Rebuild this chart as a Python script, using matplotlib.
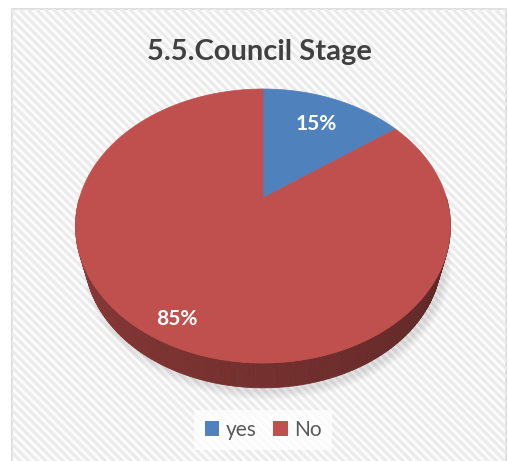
import numpy as np
import matplotlib
matplotlib.use('Agg')
from matplotlib import pyplot as plt
from matplotlib.patches import Polygon, Rectangle, Patch
from matplotlib.colors import to_rgb

labels = ['yes', 'No']
values = [15, 85]
colors = ['#4F81BD', '#C0504D']
title = '5.5.Council Stage'

W, H = 509, 461
fig = plt.figure(figsize=(W / 100, H / 100), dpi=100)
ax = fig.add_axes([0, 0, 1, 1])
ax.set_xlim(0, W)
ax.set_ylim(H, 0)
ax.axis('off')

# chart frame with faint diagonal stripes
frame = Rectangle((12.5, 9.5), 494, 460, facecolor='#fcfcfc', edgecolor='#d9d9d9', lw=1.2, zorder=0)
ax.add_patch(frame)
for x0 in np.arange(-500, 520, 8.5):
    ln, = ax.plot([x0, x0 + 500], [0, 500], color='#ebebeb', lw=2.2, zorder=0.5)
    ln.set_clip_path(frame)

# perspective pie: centre, radii, perspective factor
cx, cy = 263, 198
a, b, k = 183.5, 131.3, 0.2045
# bottom face: a bit smaller and lower
shrink, drop = 0.95, 33


def proj(t, r=1.0, bottom=False):
    u, v = r * np.sin(t), r * np.cos(t)
    w = 1 + k * v
    if bottom:
        return cx + shrink * a * u / w, cy + drop - shrink * b * v / w
    return cx + a * u / w, cy - b * v / w


# soft shadow under the pie
tt = np.linspace(0, 2 * np.pi, 200)
for g in np.linspace(8, 1, 5):
    xs, ys = proj(tt, bottom=True)
    sx = cx + 4 + (xs - cx) * (1 + g / 220)
    sy = cy + drop + 4 + (ys - cy - drop) * (1 + g / 160)
    ax.add_patch(Polygon(np.c_[sx, sy], closed=True, facecolor='#000000', alpha=0.02, lw=0, zorder=1))

frac = np.array(values) / sum(values)
edges = np.concatenate([[0], np.cumsum(frac)]) * 2 * np.pi

# side walls (front half only), shaded darker towards the right
for i in range(len(values)):
    t0, t1 = max(edges[i], np.pi / 2), min(edges[i + 1], 3 * np.pi / 2)
    if t1 <= t0:
        continue
    base = np.array(to_rgb(colors[i]))
    ts = np.linspace(t0, t1, 150)
    for j in range(len(ts) - 1):
        s = (ts[j] - np.pi / 2) / np.pi
        c = base * (0.46 + 0.28 * s)
        xa, ya = proj(ts[j])
        xb, yb = proj(ts[j + 1])
        xc, yc = proj(ts[j + 1], bottom=True)
        xd, yd = proj(ts[j], bottom=True)
        ax.add_patch(Polygon([(xa, ya), (xb, yb), (xc, yc), (xd, yd)], closed=True,
                             facecolor=c, edgecolor=c, lw=0.6, zorder=2))

# top face wedges and percentage labels
for i in range(len(values)):
    ts = np.linspace(edges[i], edges[i + 1], 200)
    xs, ys = proj(ts)
    pts = np.vstack([[cx, cy], np.c_[xs, ys]])
    ax.add_patch(Polygon(pts, closed=True, facecolor=colors[i], edgecolor=colors[i], lw=0.5, zorder=3))
    mid = (edges[i] + edges[i + 1]) / 2
    lx, ly = proj(mid, r=0.72 if frac[i] < 0.5 else 0.87)
    ax.text(lx, ly, '%d%%' % values[i], color='white', fontsize=15,
            fontweight='bold', family='Lato', ha='center', va='center', zorder=4)

ax.text(259, 52, title, fontsize=21, fontweight='bold', family='Lato', color='#404040',
        ha='center', va='center', zorder=4)

handles = [Patch(facecolor=c, edgecolor='none') for c in colors]
leg = fig.legend(handles, labels, loc='center', bbox_to_anchor=(263 / W, 1 - 430 / H), ncol=2,
                 prop={'family': 'Lato', 'size': 15}, handlelength=0.7, handleheight=0.7,
                 handletextpad=0.3, columnspacing=0.8, frameon=True, fancybox=False,
                 borderpad=0.5)
leg.get_frame().set_facecolor('white')
leg.get_frame().set_edgecolor('none')
for t in leg.get_texts():
    t.set_color('#595959')

fig.savefig('out.png', dpi=100, facecolor='white')
